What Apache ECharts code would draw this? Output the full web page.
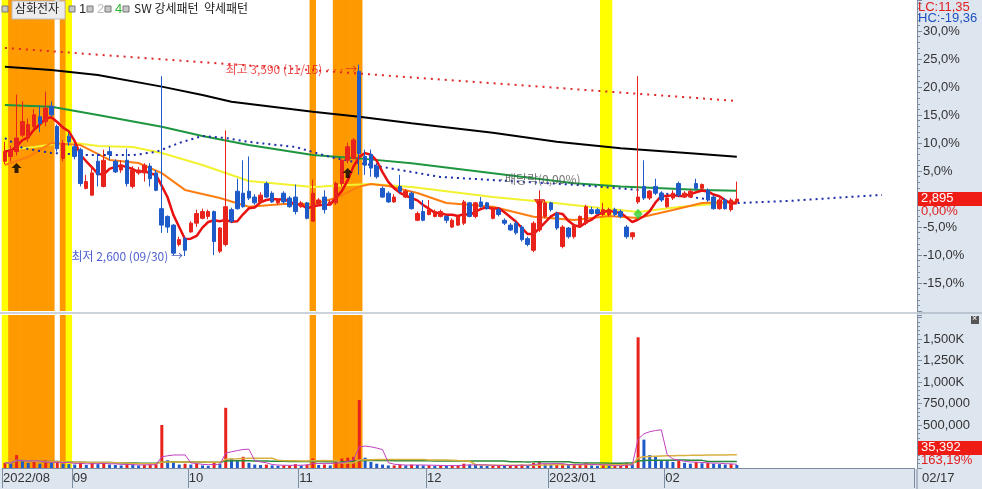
<!DOCTYPE html>
<html><head><meta charset="utf-8">
<script src="https://cdn.jsdelivr.net/npm/echarts@6/dist/echarts.min.js"></script>
<style>html,body{margin:0;padding:0;background:#fff;}#c{width:982px;height:489px;}</style>
</head><body><div id="c"></div><script>
// ---------- data ----------
const dates = [
'2022/08/16','2022/08/17','2022/08/18','2022/08/19','2022/08/22','2022/08/23','2022/08/24','2022/08/25','2022/08/26','2022/08/29','2022/08/30','2022/08/31',
'2022/09/01','2022/09/02','2022/09/05','2022/09/06','2022/09/07','2022/09/08','2022/09/13','2022/09/14','2022/09/15','2022/09/16','2022/09/19','2022/09/20','2022/09/21','2022/09/22','2022/09/23','2022/09/26','2022/09/27','2022/09/28','2022/09/29','2022/09/30',
'2022/10/04','2022/10/05','2022/10/06','2022/10/07','2022/10/11','2022/10/12','2022/10/13','2022/10/14','2022/10/17','2022/10/18','2022/10/19','2022/10/20','2022/10/21','2022/10/24','2022/10/25','2022/10/26','2022/10/27','2022/10/28','2022/10/31',
'2022/11/01','2022/11/02','2022/11/03','2022/11/04','2022/11/07','2022/11/08','2022/11/09','2022/11/10','2022/11/11','2022/11/14','2022/11/15','2022/11/16','2022/11/17','2022/11/18','2022/11/21','2022/11/22','2022/11/23','2022/11/24','2022/11/25','2022/11/28','2022/11/29','2022/11/30',
'2022/12/01','2022/12/02','2022/12/05','2022/12/06','2022/12/07','2022/12/08','2022/12/09','2022/12/12','2022/12/13','2022/12/14','2022/12/15','2022/12/16','2022/12/19','2022/12/20','2022/12/21','2022/12/22','2022/12/23','2022/12/26','2022/12/27','2022/12/28','2022/12/29',
'2023/01/02','2023/01/03','2023/01/04','2023/01/05','2023/01/06','2023/01/09','2023/01/10','2023/01/11','2023/01/12','2023/01/13','2023/01/16','2023/01/17','2023/01/18','2023/01/19','2023/01/20','2023/01/25','2023/01/26','2023/01/27','2023/01/30','2023/01/31',
'2023/02/01','2023/02/02','2023/02/03','2023/02/06','2023/02/07','2023/02/08','2023/02/09','2023/02/10','2023/02/13','2023/02/14','2023/02/15','2023/02/16','2023/02/17'];
const futureSlots = 30;
const opens  = [3090,3115,3140,3225,3210,3270,3320,3295,3375,3270,3105,3220,3165,3150,2950,2915,3090,2960,3140,3090,3045,3095,2960,3030,3030,3065,3030,2845,2805,2760,2660,2690,2725,2770,2795,2805,2830,2625,2660,2840,2935,2925,2935,2905,2880,2975,2925,2875,2925,2900,2905,2855,2875,2780,2870,2905,2865,2875,2975,3095,3105,3555,3115,3125,3065,2950,2925,2880,2960,2905,2925,2785,2830,2815,2805,2805,2805,2750,2760,2770,2875,2805,2880,2875,2795,2840,2785,2760,2770,2750,2690,2630,2735,2805,2875,2820,2650,2745,2700,2760,2770,2840,2840,2815,2815,2840,2830,2750,2700,2880,2960,2900,2960,2925,2855,2900,2975,2905,2905,2975,2950,2940,2905,2845,2890,2840,2880];
const closes = [3140,3150,3210,3295,3280,3330,3285,3365,3330,3155,3185,3190,3115,2975,2985,3030,3020,3095,3125,3035,3070,2975,3045,3045,3070,3000,2940,2760,2750,2615,2685,2630,2770,2820,2830,2830,2675,2745,2855,2780,2845,2855,2900,2875,2915,2905,2880,2890,2880,2855,2830,2875,2795,2925,2890,2840,2880,2975,3095,3165,3200,3130,3070,3055,3010,2905,2880,2905,2935,2935,2845,2820,2785,2840,2830,2830,2785,2785,2805,2880,2805,2875,2855,2845,2845,2815,2770,2735,2720,2685,2660,2770,2880,2875,2840,2745,2750,2700,2760,2805,2855,2820,2820,2840,2840,2815,2805,2700,2720,2905,2900,2935,2925,2890,2900,2925,2915,2925,2935,2950,2970,2890,2845,2890,2845,2890,2895];
const highs  = [3190,3170,3435,3400,3310,3360,3380,3450,3400,3280,3200,3235,3180,3160,3020,3070,3130,3150,3165,3100,3095,3155,3065,3060,3080,3080,3045,3530,2810,2765,2700,2700,2780,2840,2845,2840,2835,2750,3250,2850,3000,3095,3115,2920,2930,2985,2935,2900,2935,2910,2970,2885,2880,2995,2900,2940,2890,2985,3100,3185,3210,3590,3150,3150,3080,2960,2935,2920,3020,2945,2935,2830,2890,2890,2840,2840,2810,2795,2810,2890,2880,2880,2905,2880,2855,2850,2795,2770,2780,2760,2700,2780,2940,2890,2880,2830,2760,2750,2770,2810,2865,2855,2850,2875,2850,2850,2840,2760,2725,3530,3095,2940,3000,2935,2905,2940,2985,2935,2945,3000,2975,2950,2915,2900,2900,2900,2985];
const lows   = [3075,3090,3120,3215,3190,3250,3240,3270,3320,3140,3090,3170,3100,2960,2945,2910,2960,2955,3095,3030,3030,2960,2950,3020,2985,2960,2935,2720,2720,2605,2650,2600,2720,2750,2790,2790,2605,2615,2650,2770,2840,2850,2890,2865,2870,2900,2875,2865,2870,2850,2815,2850,2790,2780,2865,2820,2860,2865,2960,3080,3100,3020,3020,3010,3000,2900,2875,2875,2925,2900,2840,2780,2780,2810,2800,2800,2770,2745,2755,2760,2800,2795,2850,2840,2790,2805,2760,2730,2710,2675,2650,2620,2725,2795,2830,2735,2640,2690,2690,2755,2760,2815,2815,2805,2805,2805,2795,2690,2685,2870,2890,2890,2915,2880,2850,2890,2905,2900,2900,2945,2945,2880,2840,2840,2840,2830,2875];
const volumes = [60000,55000,150000,80000,60000,70000,50000,90000,60000,70000,50000,45000,
40000,70000,35000,60000,45000,60000,40000,35000,30000,45000,40000,30000,35000,40000,45000,500000,90000,80000,40000,50000,
40000,50000,30000,25000,60000,50000,700000,110000,90000,130000,60000,40000,35000,40000,30000,25000,30000,30000,45000,
30000,40000,110000,35000,40000,30000,80000,110000,120000,130000,790000,120000,70000,50000,40000,30000,30000,40000,30000,40000,35000,30000,
30000,25000,30000,25000,30000,30000,50000,40000,35000,30000,25000,30000,30000,25000,30000,35000,40000,30000,60000,80000,45000,
35000,40000,50000,35000,40000,40000,60000,30000,25000,30000,25000,25000,25000,60000,50000,1520000,330000,150000,130000,90000,
80000,70000,90000,60000,50000,70000,55000,60000,50000,45000,40000,45000,35392];
// moving-average / trend lines: [day index, price]
const ma120Line = [[0,3579],[8,3562],[16,3536],[27,3476],[34,3433],[39,3398],[53,3346],[61,3320],[70,3286],[84,3238],[95,3191],[106,3157],[118,3131],[126,3114]];
const ma60Line  = [[0,3381],[8,3372],[16,3329],[27,3269],[34,3221],[42,3174],[53,3122],[61,3105],[70,3080],[84,3028],[98,2976],[106,2959],[120,2942],[126,2938]];
const ma20Line  = [[0,3148],[5,3164],[11,3190],[16,3169],[22,3164],[27,3133],[34,3071],[42,2988],[53,2957],[59,2967],[63,2973],[70,2957],[84,2905],[93,2880],[101,2854],[109,2828],[116,2854],[126,2880]];
const ma10Line  = [[0,3071],[4,3112],[8,3185],[13,3174],[18,3097],[23,3081],[27,3029],[31,2942],[37,2900],[42,2855],[48,2869],[53,2869],[57,2900],[61,2959],[63,2973],[66,2962],[71,2926],[76,2874],[84,2855],[91,2803],[98,2786],[104,2807],[109,2797],[115,2838],[120,2874],[126,2881]];
const spanLine  = [[0,3210],[3,3159],[8,3133],[14,3122],[22,3122],[26,3138],[30,3185],[34,3221],[38,3210],[42,3190],[50,3164],[56,3112],[61,3081],[69,3040],[75,3009],[84,2993],[99,2967],[109,2942],[126,2874],[135,2885],[145,2905],[151,2916]];
const trendLine = [[0,3676],[126,3402]];
const bandOrange = [1,2,3,4,5,6,7,8,10,53,57,58,59,60,61];
const bandYellow = [0,11,103,104];
const bullMarks = [[2,3055],[59,3030]];
const bearMarks = [[92,2872]];
const greenMarks = [[109,2817]];
const highNote = [61,3590,'최고 3,590 (11/15) ···→'];
const lowNote  = [31,2600,'최저 2,600 (09/30) →'];
const divNote  = [92,2998,'·배당락(0,00%)'];
const monthLabels = ['2022/08','09','10','11','12','2023/01','02'];
const lastLabel = '02/17';
const BASE = 2895;
const lcText = 'LC:11,35', hcText = 'HC:-19,36';
const volPctText = '163,19%';

// ---------- derived ----------
const cats = dates.concat(Array.from({length:futureSlots},()=>''));
const monthIdx = [];
dates.forEach((d,i)=>{ if(i===0 || d.slice(0,7)!==dates[i-1].slice(0,7)) monthIdx.push(i); });
const candle = dates.map((d,i)=>[opens[i],closes[i],lows[i],highs[i]]);
function ma(arr,n){return arr.map((v,i)=>{const s=Math.max(0,i-n+1);let t=0;for(let k=s;k<=i;k++)t+=arr[k];return +(t/(i-s+1)).toFixed(1);});}
const ma5 = ma(closes,5);
const vma5 = ma(volumes,5), vma20 = ma(volumes,20), vma60 = ma(volumes,60);
const bands = bandOrange.map(i=>[i,1]).concat(bandYellow.map(i=>[i,2]));
const RED='#e8231c', BLUE='#1f5bc8';
const volData = volumes.map((v,i)=>({value:v,itemStyle:{color: (i===0 || v>=volumes[i-1])?RED:BLUE}}));

const numFont = "'Liberation Sans Narrow','Liberation Sans',sans-serif";
const krFont = "'Noto Sans CJK KR',sans-serif";
const axisCol = '#7d8ca0';
const pxPerWon = 28/(BASE*0.05);
const yMin = BASE*0.8, yMax = BASE*0.8 + 311/pxPerWon;
const volMax = 153/129*1500000;

function bandRender(params, api){
  const cs = params.coordSys;
  const x = api.coord([api.value(0), 0])[0];
  const w = api.size([1,0])[0];
  return {type:'rect', shape:{x:x-w/2-0.3, y:cs.y, width:w+0.6, height:cs.height},
    style:{fill: api.value(1)===1 ? '#ff9900' : '#ffff00'}};
}

const chart = echarts.init(document.getElementById('c'), null, {renderer:'canvas'});
const option = {
  animation:false,
  backgroundColor:'#ffffff',
  grid:[{left:2,right:68,top:0,height:311},{left:2,right:68,top:315,height:153}],
  xAxis:[
    {type:'category',data:cats,gridIndex:0,boundaryGap:true,axisLine:{show:false},axisTick:{show:false},axisLabel:{show:false},splitLine:{show:false}},
    {type:'category',data:cats,gridIndex:1,boundaryGap:true,
      axisLine:{show:true,lineStyle:{color:axisCol}},
      axisTick:{show:true,interval:(i)=>monthIdx.includes(i),length:20,lineStyle:{color:axisCol}},
      axisLabel:{show:true,interval:(i)=>monthIdx.includes(i),formatter:(v,i)=>{const k=monthIdx.indexOf(i);return k>=0?monthLabels[k]:'';},
        align:'left',margin:4,color:'#333',fontFamily:numFont,fontSize:13,padding:[0,0,0,-2]},
      splitLine:{show:false}}
  ],
  yAxis:[
    {type:'value',gridIndex:0,position:'right',offset:3,min:yMin,max:yMax,interval:BASE*0.05,
      axisLine:{show:true,lineStyle:{color:axisCol}},
      axisTick:{show:true,length:5,lineStyle:{color:axisCol}},
      minorTick:{show:true,splitNumber:5,length:3,lineStyle:{color:axisCol}},
      splitLine:{show:false},
      axisLabel:{margin:6,color:'#333',fontFamily:numFont,fontSize:13,
        formatter:(v)=>{const p=(v/BASE-1)*100; if(Math.abs(p)<0.01||p>32||p<-17) return ''; return p.toFixed(1).replace('.',',')+'%';}}},
    {type:'value',gridIndex:1,position:'right',offset:3,min:0,max:volMax,interval:250000,
      axisLine:{show:true,lineStyle:{color:axisCol}},
      axisTick:{show:true,length:5,lineStyle:{color:axisCol}},
      minorTick:{show:true,splitNumber:5,length:3,lineStyle:{color:axisCol}},
      splitLine:{show:false},
      axisLabel:{margin:6,color:'#333',fontFamily:numFont,fontSize:13,
        formatter:(v)=>{if(v<=0||v>1600000) return ''; return v>=1000000 ? (v/1000).toLocaleString('en-US')+'K' : v.toLocaleString('en-US');}}}
  ],
  series:[
    {type:'custom',name:'bands',xAxisIndex:0,yAxisIndex:0,data:bands,renderItem:bandRender,z:0,silent:true},
    {type:'custom',name:'bandsV',xAxisIndex:1,yAxisIndex:1,data:bands,renderItem:bandRender,z:0,silent:true},
    {type:'line',name:'trend',data:trendLine,symbol:'none',lineStyle:{color:'#e02828',width:2,type:[2,5]},z:2},
    {type:'line',name:'ma120',data:ma120Line,symbol:'none',lineStyle:{color:'#000000',width:2},z:2},
    {type:'line',name:'ma60',data:ma60Line,symbol:'none',lineStyle:{color:'#1e9640',width:2},z:2},
    {type:'line',name:'ma20',data:ma20Line,symbol:'none',lineStyle:{color:'#f2f230',width:2},z:2},
    {type:'line',name:'ma10',data:ma10Line,symbol:'none',lineStyle:{color:'#ff7d10',width:2},z:2},
    {type:'line',name:'span',data:spanLine,symbol:'none',lineStyle:{color:'#1a2ca8',width:2,type:[2,4]},z:2},
    {type:'line',name:'ma5',data:ma5,symbol:'none',lineStyle:{color:'#e81010',width:2.5},z:3},
    {type:'candlestick',name:'price',data:candle,barWidth:4,z:4,
      itemStyle:{color:RED,color0:BLUE,borderColor:RED,borderColor0:BLUE,borderWidth:1}},
    {type:'scatter',name:'bull',data:bullMarks,symbol:'path://M5,0L10,5L7,5L7,10L3,10L3,5L0,5Z',symbolSize:[10,10],itemStyle:{color:'#000'},z:6},
    {type:'scatter',name:'bear',data:bearMarks,symbol:'triangle',symbolRotate:180,symbolSize:[11,9],itemStyle:{color:'#e81818'},z:6},
    {type:'scatter',name:'green',data:greenMarks,symbol:'diamond',symbolSize:[9,11],itemStyle:{color:'#30d030'},z:6},
    {type:'scatter',name:'high',data:[[highNote[0],highNote[1]]],symbolSize:0,z:7,
      label:{show:true,position:'left',distance:2,offset:[0,5],formatter:highNote[2],color:'#e82020',fontFamily:krFont,fontSize:12}},
    {type:'scatter',name:'low',data:[[lowNote[0],lowNote[1]]],symbolSize:0,z:7,
      label:{show:true,position:'left',distance:2,offset:[0,0],formatter:lowNote[2],color:'#2038c0',fontFamily:krFont,fontSize:12}},
    {type:'scatter',name:'div',data:[[divNote[0],divNote[1]]],symbolSize:0,z:7,
      label:{show:true,position:'inside',formatter:divNote[2],color:'#555',fontFamily:krFont,fontSize:12}},
    {type:'bar',name:'vol',xAxisIndex:1,yAxisIndex:1,data:volData,barWidth:3,z:3},
    {type:'line',name:'vma60',xAxisIndex:1,yAxisIndex:1,data:vma60,symbol:'none',lineStyle:{color:'#2a8a3a',width:1.5},z:4},
    {type:'line',name:'vma20',xAxisIndex:1,yAxisIndex:1,data:vma20,symbol:'none',lineStyle:{color:'#d8b040',width:1.5},z:4},
    {type:'line',name:'vma5',xAxisIndex:1,yAxisIndex:1,data:vma5,symbol:'none',lineStyle:{color:'#c040c0',width:1},z:4}
  ]
};
chart.setOption(option);

// ---------- decorations (positions from the axes) ----------
const yPrice = chart.convertToPixel({xAxisIndex:0,yAxisIndex:0},[126,closes[126]])[1];
const yVol = chart.convertToPixel({xAxisIndex:1,yAxisIndex:1},[126,volumes[126]])[1];
const volBoxTop = Math.min(yVol-7, 468-27);
const panelFill = '#dde5ef';
const g = [
  {type:'rect',shape:{x:917,y:0,width:65,height:469},style:{fill:panelFill},z:-10,silent:true},
  {type:'rect',shape:{x:0,y:469,width:982,height:20},style:{fill:panelFill},z:-10,silent:true},
  {type:'line',shape:{x1:0,y1:313,x2:982,y2:313},style:{stroke:'#9aa6b6',lineWidth:1},z:20},
  {type:'line',shape:{x1:917,y1:469,x2:917,y2:489},style:{stroke:axisCol,lineWidth:1},z:20},
  {type:'text',x:922,y:472,style:{text:lastLabel,fill:'#333',font:'13px '+numFont},z:20},
  {type:'text',x:918,y:1,style:{text:lcText,fill:'#e02020',font:'13px '+numFont},z:20},
  {type:'text',x:918,y:12,style:{text:hcText,fill:'#2050c0',font:'13px '+numFont},z:20},
  {type:'rect',shape:{x:918,y:yPrice-7,width:64,height:14},style:{fill:'#ee1c14'},z:20},
  {type:'text',x:921,y:yPrice-7,style:{text:closes[126].toLocaleString('en-US'),fill:'#fff',font:'13px '+numFont},z:21},
  {type:'text',x:921,y:yPrice+6,style:{text:'0,00%',fill:'#e02020',font:'13px '+numFont},z:21},
  {type:'rect',shape:{x:918,y:volBoxTop,width:64,height:14},style:{fill:'#ee1c14'},z:20},
  {type:'text',x:921,y:volBoxTop,style:{text:volumes[126].toLocaleString('en-US'),fill:'#fff',font:'13px '+numFont},z:21},
  {type:'text',x:921,y:volBoxTop+13,style:{text:volPctText,fill:'#e02020',font:'13px '+numFont},z:21},
  {type:'rect',shape:{x:971,y:316,width:8,height:8},style:{fill:'#555'},z:20},
  {type:'text',x:972,y:314,style:{text:'×',fill:'#fff',font:'9px sans-serif'},z:21},
  // legend
  {type:'rect',shape:{x:2,y:6,width:6,height:6},style:{fill:'#c8c8c8',stroke:'#777',lineWidth:1},z:20},
  {type:'rect',shape:{x:12,y:1,width:53,height:18},style:{fill:'#ececec',stroke:'#bbb',lineWidth:1},z:19},
  {type:'text',x:15,y:2,style:{text:'삼화전자',fill:'#222',font:'12px '+krFont},z:20},
  {type:'rect',shape:{x:69,y:6,width:6,height:6},style:{fill:'#c8c8c8',stroke:'#777',lineWidth:1},z:20},
  {type:'text',x:79,y:3,style:{text:'1',fill:'#222',font:'13px '+numFont},z:20},
  {type:'rect',shape:{x:87,y:6,width:6,height:6},style:{fill:'#c8c8c8',stroke:'#777',lineWidth:1},z:20},
  {type:'text',x:97,y:3,style:{text:'2',fill:'#bbb',font:'13px '+numFont},z:20},
  {type:'rect',shape:{x:105,y:6,width:6,height:6},style:{fill:'#c8c8c8',stroke:'#777',lineWidth:1},z:20},
  {type:'text',x:115,y:3,style:{text:'4',fill:'#2cb82c',font:'13px '+numFont},z:20},
  {type:'rect',shape:{x:123,y:6,width:6,height:6},style:{fill:'#c8c8c8',stroke:'#777',lineWidth:1},z:20},
  {type:'text',x:134,y:2,style:{text:'SW 강세패턴  약세패턴',fill:'#222',font:'12px '+krFont},z:20}
];
chart.setOption({graphic:g});
</script></body></html>
